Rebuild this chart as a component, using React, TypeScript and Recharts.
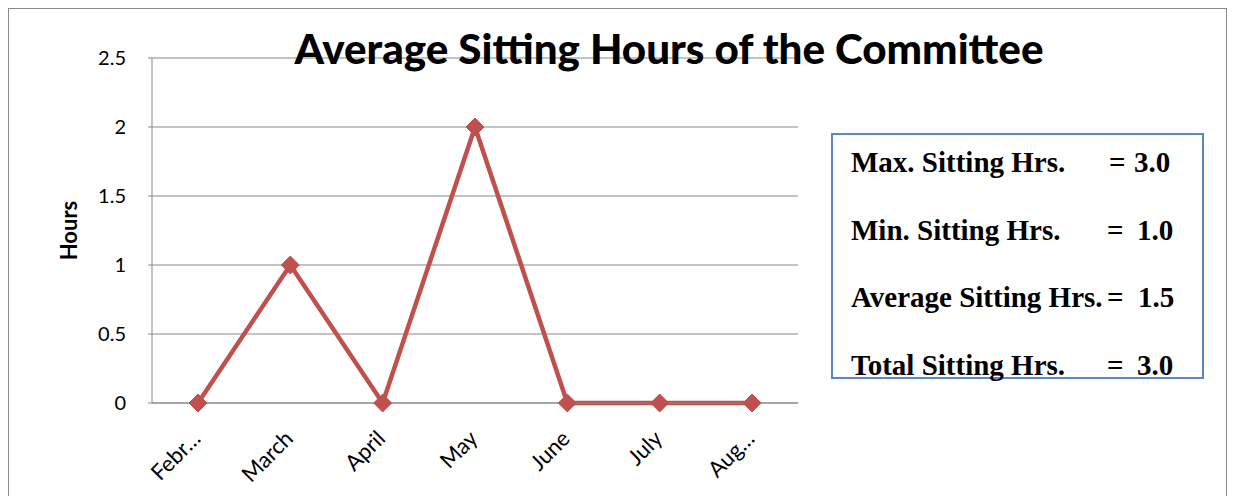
import React from "react";
import { LineChart, Line, XAxis, YAxis, CartesianGrid } from "recharts";

const months = ["February", "March", "April", "May", "June", "July", "August"];
const monthLabels = ["Febr…", "March", "April", "May", "June", "July", "Aug…"];
const hours = [0, 1, 0, 2, 0, 0, 0];
const yTicks = [0, 0.5, 1, 1.5, 2, 2.5];
const summaryRows = [
  { label: "Max. Sitting Hrs.", eqX: 276, value: "3.0", valueX: 301 },
  { label: "Min. Sitting Hrs.", eqX: 274, value: "1.0", valueX: 304 },
  { label: "Average Sitting Hrs.", eqX: 274, value: "1.5", valueX: 305 },
  { label: "Total Sitting Hrs.", eqX: 274, value: "3.0", valueX: 304 },
];

const data = months.map((m, i) => ({ month: m, hours: hours[i] }));

const RED = "#C0504D";
const GRID = "#888888";
const FONT = "Lato, 'Open Sans', sans-serif";

function Diamond(props: any) {
  const { cx, cy } = props;
  if (cx == null || cy == null) return null;
  const r = 9;
  return (
    <polygon
      points={`${cx},${cy - r} ${cx + r},${cy} ${cx},${cy + r} ${cx - r},${cy}`}
      fill={RED}
      stroke={RED}
    />
  );
}

function MonthTick(props: any) {
  const { x, y, payload, index } = props;
  return (
    <text
      transform={`translate(${x + 4},${y + 29}) rotate(-45)`}
      textAnchor="end"
      fontFamily={FONT}
      fontSize={22}
      fill="#000"
    >
      {monthLabels[index] ?? payload.value}
    </text>
  );
}

export default function App() {
  return (
    <div
      style={{
        position: "relative",
        width: 1217,
        height: 490,
        borderTop: "1px solid #8a8a8a",
        borderLeft: "1px solid #8a8a8a",
        borderRight: "1px solid #8a8a8a",
        background: "#fff",
      }}
    >
      <LineChart
        width={1217}
        height={487}
        data={data}
        margin={{ top: 49, right: 428, bottom: 0, left: 0 }}
      >
        <CartesianGrid vertical={false} stroke={GRID} strokeWidth={1.2} />
        <XAxis
          dataKey="month"
          axisLine={{ stroke: GRID }}
          tickLine={false}
          height={93}
          padding={{ left: 46, right: 46 }}
          interval={0}
          tick={<MonthTick />}
        />
        <YAxis
          width={143}
          domain={[0, 2.5]}
          ticks={yTicks}
          axisLine={{ stroke: GRID }}
          tickLine={{ stroke: GRID }}
          tickSize={4}
          tickMargin={22}
          tick={{ fontSize: 20, fill: "#000", fontFamily: FONT }}
          label={{
            value: "Hours",
            angle: -90,
            position: "insideLeft",
            offset: 60,
            style: { fontSize: 22, fontWeight: 700, fill: "#000", fontFamily: FONT, textAnchor: "middle" },
          }}
        />
        <Line
          dataKey="hours"
          stroke={RED}
          strokeWidth={4.5}
          dot={<Diamond />}
          activeDot={false}
          isAnimationActive={false}
        />
        <text
          x={660}
          y={55}
          textAnchor="middle"
          fontFamily={FONT}
          fontWeight={900}
          fontSize={41}
          textLength={749}
          lengthAdjust="spacingAndGlyphs"
          fill="#000"
        >
          Average Sitting Hours of the Committee
        </text>
      </LineChart>
      <div
        style={{
          position: "absolute",
          left: 822,
          top: 124,
          width: 369,
          height: 242,
          border: "2px solid #5B87C5",
          fontFamily: "'Liberation Serif', 'Times New Roman', serif",
          fontWeight: 700,
          fontSize: 29,
          lineHeight: "30px",
          color: "#000",
        }}
      >
        {summaryRows.map((r, i) => (
          <div key={r.label} style={{ position: "absolute", top: 12 + i * 67.5, left: 0, width: "100%", height: 30 }}>
            <span style={{ position: "absolute", left: 18, whiteSpace: "nowrap" }}>{r.label}</span>
            <span style={{ position: "absolute", left: r.eqX }}>=</span>
            <span style={{ position: "absolute", left: r.valueX }}>{r.value}</span>
          </div>
        ))}
      </div>
    </div>
  );
}
